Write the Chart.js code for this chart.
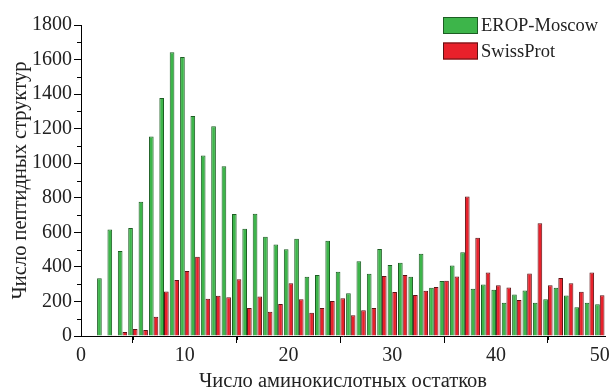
<!DOCTYPE html>
<html><head><meta charset="utf-8">
<script src="https://cdn.jsdelivr.net/npm/chart.js@4"></script>
<style>html,body{margin:0;padding:0;background:#fff}#wrap{width:611px;height:387px}</style>
</head><body><div id="wrap"><canvas id="c" width="611" height="387"></canvas></div>
<script>
const lengths = [2,3,4,5,6,7,8,9,10,11,12,13,14,15,16,17,18,19,20,21,22,23,24,25,26,27,28,29,30,31,32,33,34,35,36,37,38,39,40,41,42,43,44,45,46,47,48,49,50];
const erop = [334,617,492,625,777,1154,1378,1642,1615,1273,1044,1214,982,706,621,707,575,530,502,563,343,353,552,372,247,432,361,504,411,424,343,476,279,318,408,485,273,298,267,192,240,263,192,213,279,234,167,192,184];
const swiss = [0,5,23,40,35,112,257,324,376,459,216,233,224,328,162,229,141,185,305,212,135,162,203,218,120,149,162,347,255,353,237,262,283,320,344,807,568,367,294,281,209,362,653,294,335,306,256,367,236];
const seriesNames = ['EROP-Moscow','SwissProt'];
const xTitle = 'Число аминокислотных остатков';
const yTitle = 'Число пептидных структур';

const serif = "'Liberation Serif','Times New Roman',serif";

const minorTicks = {
  id: 'minorTicks',
  afterDraw(chart) {
    const ctx = chart.ctx, xs = chart.scales.x, ys = chart.scales.y;
    ctx.save();
    ctx.strokeStyle = '#000'; ctx.lineWidth = 1;
    for (let v = 5; v <= 50; v += 10) {
      const p = Math.round(xs.getPixelForValue(v)) + 0.5;
      ctx.beginPath(); ctx.moveTo(p, ys.bottom); ctx.lineTo(p, ys.bottom + 4); ctx.stroke();
    }
    for (let v = 100; v <= 1800; v += 200) {
      const p = Math.round(ys.getPixelForValue(v)) + 0.5;
      ctx.beginPath(); ctx.moveTo(xs.left, p); ctx.lineTo(xs.left - 4, p); ctx.stroke();
    }
    ctx.restore();
  }
};

const boxLegend = {
  id: 'boxLegend',
  afterDraw(chart) {
    const ctx = chart.ctx;
    ctx.save();
    ctx.font = '18.5px ' + serif;
    ctx.textBaseline = 'middle';
    chart.data.datasets.forEach((ds, i) => {
      const x = 443, y = 17 + i * 25.5, w = 35, h = 17;
      ctx.fillStyle = ds.backgroundColor;
      ctx.fillRect(x, y, w, h);
      ctx.strokeStyle = ds.borderColor; ctx.lineWidth = 1;
      ctx.strokeRect(x + 0.5, y + 0.5, w - 1, h - 1);
      ctx.fillStyle = '#222';
      ctx.fillText(ds.label, x + w + 3, y + h / 2 + 1);
    });
    ctx.restore();
  }
};

new Chart(document.getElementById('c'), {
  type: 'bar',
  data: {
    labels: lengths,
    datasets: [
      { label: seriesNames[0], data: erop, backgroundColor: '#3db54a', borderColor: '#1d5e24', borderWidth: 1 },
      { label: seriesNames[1], data: swiss, backgroundColor: '#e8212b', borderColor: '#5c1214', borderWidth: 1 }
    ]
  },
  options: {
    responsive: false,
    animation: false,
    events: [],
    categoryPercentage: 0.9,
    barPercentage: 1.0,
    layout: { padding: { top: 25, right: 6, left: 0, bottom: 0 } },
    plugins: { legend: { display: false }, tooltip: { enabled: false } },
    scales: {
      x: {
        type: 'linear', min: 0, max: 50.5, offset: false,
        ticks: { stepSize: 10, includeBounds: false, color: '#222', font: { family: serif, size: 20 }, padding: 1, maxRotation: 0, callback: v => String(v) },
        grid: { drawOnChartArea: false, tickLength: 7, color: '#000', tickColor: '#000' },
        border: { display: true, color: '#000', width: 1 },
        title: { display: true, text: xTitle, color: '#222', font: { family: serif, size: 20.5 }, padding: { top: 0, bottom: -6.5 } },
        afterFit(s) { s.height = 51; }
      },
      y: {
        min: 0, max: 1800,
        ticks: { stepSize: 200, color: '#222', font: { family: serif, size: 20 }, padding: 2, callback: v => String(v) },
        grid: { drawOnChartArea: false, tickLength: 7, color: '#000', tickColor: '#000' },
        border: { display: true, color: '#000', width: 1 },
        title: { display: true, text: yTitle, color: '#222', font: { family: serif, size: 20.5 }, padding: { top: 8.5, bottom: 0 } },
        afterFit(s) { s.width = 81; }
      }
    }
  },
  plugins: [minorTicks, boxLegend]
});
</script>
</body></html>
